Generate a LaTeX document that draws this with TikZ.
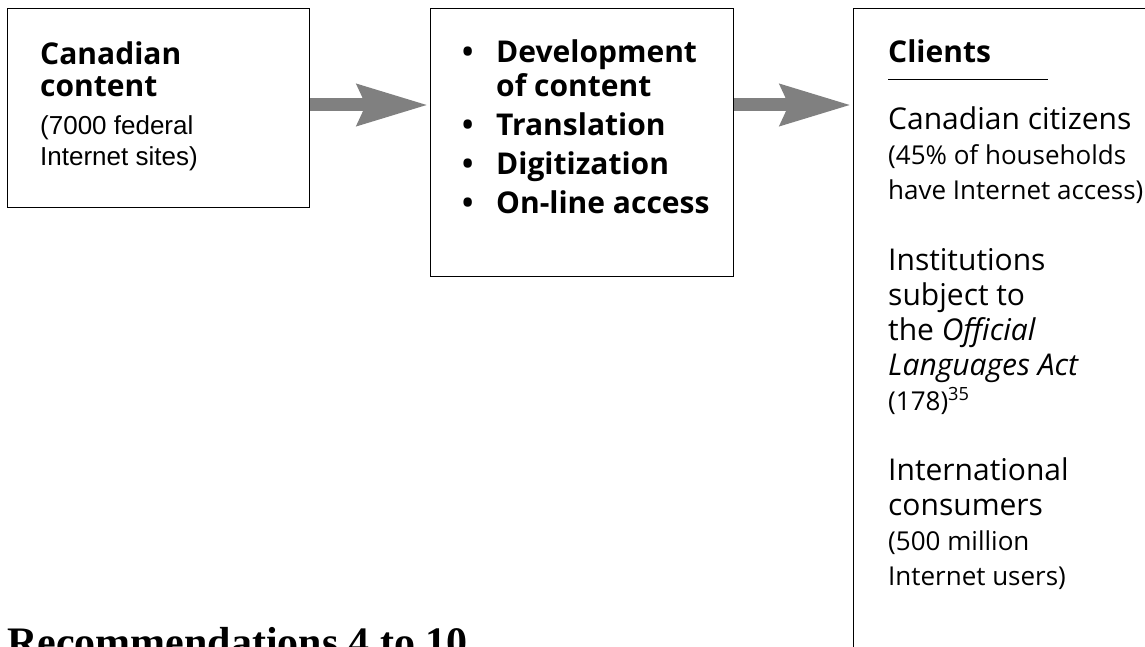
\documentclass[tikz,border=0pt]{standalone}
\usepackage{fontspec}
\setmainfont{Open Sans}
\newfontfamily\arialfont{Liberation Sans}
\newfontfamily\titlefont{Liberation Serif}
\usetikzlibrary{arrows.meta, positioning}
\definecolor{arrowgray}{HTML}{808080}
\newcommand{\headfont}{\bfseries\fontsize{30}{34}\selectfont}
\newcommand{\bodyfont}{\fontsize{30}{35}\selectfont}
\newcommand{\notefont}{\fontsize{26}{35}\selectfont}
\newcommand{\itemdot}{\makebox[34pt][l]{\textbullet}}

\tikzset{
  panel/.style={draw, line width=1pt, inner sep=0pt, anchor=north west},
  block/.style={anchor=base west, inner sep=0pt},
  flow/.style={arrowgray, line width=13pt, -{Stealth[length=70pt, width=40pt, inset=8pt]}, shorten >=2pt},
}

\begin{document}
\begin{tikzpicture}[x=1pt, y=-1pt]
  \useasboundingbox (0,0) rectangle (1145,647);
  \clip (0,0) rectangle (1145,647);

  % boxes
  \node[panel, minimum width=302pt, minimum height=199pt] (content) at (7,8) {};
  \node[panel, minimum width=303pt, minimum height=268pt] (process) at (430,8) {};
  \node[panel, minimum width=400pt, minimum height=700pt] (clients) at (853,8) {};

  % arrows
  \coordinate (row) at ([yshift=3pt]content.east);
  \draw[flow] (row) -- (row -| process.west);
  \draw[flow] (row -| process.east) -- (row -| clients.west);

  % left box
  \node[block, font=\bfseries\fontsize{30}{32}\selectfont] (contentHead) at (40,65)
    {\begin{tabular}[t]{@{}l@{}}Canadian\\content\end{tabular}};
  \node[block, font=\arialfont\fontsize{26}{31}\selectfont] (contentNote) at (40,135)
    {\begin{tabular}[t]{@{}l@{}}(7000 federal\\Internet sites)\end{tabular}};

  % middle box
  \node[block, font=\headfont] (steps) at (462,63)
    {\begin{tabular}[t]{@{}l@{}l@{}}
      \itemdot & Development\\
               & of content\\[5pt]
      \itemdot & Translation\\[5pt]
      \itemdot & Digitization\\[5pt]
      \itemdot & On-line access
    \end{tabular}};

  % right box
  \node[block, font=\headfont] (clientsHead) at (888,63) {Clients};
  \draw[line width=1pt] ([yshift=-17pt]clientsHead.base west) -- ++(160,0);
  \node[block, font=\bodyfont] (citizens) at (888,130)
    {\begin{tabular}[t]{@{}l@{}}
      Canadian citizens\\
      \notefont (45\% of households\\
      \notefont have Internet access)
    \end{tabular}};
  \node[block, font=\bodyfont] (institutions) at (888,270)
    {\begin{tabular}[t]{@{}l@{}}
      Institutions\\
      subject to\\
      the \textit{Official}\\
      \textit{Languages Act}\\
      \notefont (178)\textsuperscript{35}
    \end{tabular}};
  \node[block, font=\bodyfont] (consumers) at (888,480)
    {\begin{tabular}[t]{@{}l@{}}
      International\\
      consumers\\
      \notefont (500 million\\
      \notefont Internet users)
    \end{tabular}};

  % heading below
  \node[block, font=\titlefont\bfseries\fontsize{42}{48}\selectfont] (recs) at (7,656)
    {Recommendations 4 to 10};
\end{tikzpicture}
\end{document}
